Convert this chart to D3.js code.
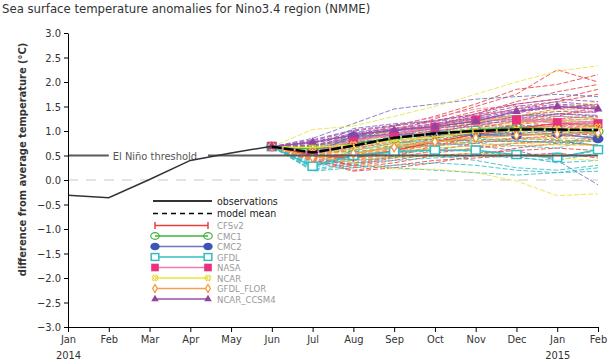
<!DOCTYPE html>
<meta charset="utf-8">
<script src="https://d3js.org/d3.v7.min.js"></script>
<style>
  body { margin: 0; background: #fff; }
  svg text { font-family: "DejaVu Sans Condensed", "DejaVu Sans", sans-serif; font-stretch: condensed; }
</style>
<body>
<div id="chart"></div>
<script>

// x axis labels, Jan 2014 .. Feb 2015
var monthLabels = ["Jan","Feb","Mar","Apr","May","Jun","Jul","Aug","Sep","Oct","Nov","Dec","Jan","Feb"];
var yearLabels  = ["2014","","","","","","","","","","","","2015",""];
var yTicks = [3.0, 2.5, 2.0, 1.5, 1.0, 0.5, 0.0, -0.5, -1.0, -1.5, -2.0, -2.5, -3.0];

// observed anomaly, Jan..Jun 2014
var obsValues = [-0.31, -0.36, 0.01, 0.40, 0.55, 0.69];
var threshold = 0.5;

// forecasts: Jun 2014 .. Feb 2015 (month index 5..13)
var forecastStart = 5;
var modelMeanValues = [0.68, 0.56, 0.70, 0.86, 0.95, 1.00, 1.03, 1.03, 1.02];

var modelNames = ["CFSv2", "CMC1", "CMC2", "GFDL", "NASA", "NCAR", "GFDL_FLOR", "NCAR_CCSM4"];

var cfsv2Mean = [0.68, 0.50, 0.45, 0.60, 0.78, 0.93, 1.06, 1.15, 1.15];
var cfsv2Members = [
  [0.68, 0.45, 0.30, 0.45, 0.60, 0.75, 0.85, 0.90, 0.95],
  [0.68, 0.40, 0.25, 0.35, 0.50, 0.55, 0.60, 0.65, 0.60],
  [0.68, 0.50, 0.45, 0.65, 0.85, 1.05, 1.20, 1.35, 1.40],
  [0.68, 0.55, 0.60, 0.85, 1.10, 1.35, 1.60, 1.80, 1.95],
  [0.68, 0.60, 0.75, 1.00, 1.25, 1.50, 1.75, 2.25, 2.00],
  [0.68, 0.42, 0.20, 0.30, 0.40, 0.45, 0.50, 0.55, 0.45],
  [0.68, 0.52, 0.50, 0.70, 0.95, 1.15, 1.30, 1.45, 1.55],
  [0.68, 0.48, 0.35, 0.50, 0.70, 0.90, 1.05, 1.10, 1.20],
  [0.68, 0.58, 0.80, 1.05, 1.20, 1.40, 1.55, 1.65, 1.85],
  [0.68, 0.45, 0.28, 0.40, 0.55, 0.65, 0.75, 0.80, 0.70],
  [0.68, 0.62, 0.90, 1.10, 1.30, 1.55, 1.85, 1.95, 2.15],
  [0.68, 0.47, 0.42, 0.60, 0.80, 0.98, 1.12, 1.25, 1.30],
  [0.68, 0.38, 0.18, 0.25, 0.35, 0.50, 0.65, 0.75, 0.85],
  [0.68, 0.50, 0.40, 0.55, 0.75, 0.95, 1.15, 1.30, 1.50],
  [0.68, 0.44, 0.32, 0.48, 0.68, 0.88, 1.00, 1.05, 1.10],
  [0.68, 0.56, 0.65, 0.90, 1.12, 1.30, 1.45, 1.60, 1.75]
];

var cmc1Mean = [0.68, 0.63, 0.74, 0.84, 0.95, 1.02, 1.07, 1.04, 0.99];
var cmc1Members = [
  [0.68, 0.62, 0.70, 0.80, 0.90, 0.95, 1.00, 1.00, 0.95],
  [0.68, 0.66, 0.80, 0.92, 1.05, 1.15, 1.20, 1.18, 1.10],
  [0.68, 0.58, 0.62, 0.70, 0.78, 0.82, 0.85, 0.82, 0.78],
  [0.68, 0.70, 0.88, 1.00, 1.12, 1.25, 1.32, 1.30, 1.25],
  [0.68, 0.60, 0.66, 0.75, 0.85, 0.92, 0.95, 0.90, 0.88],
  [0.68, 0.64, 0.75, 0.88, 0.98, 1.05, 1.08, 1.05, 1.00],
  [0.68, 0.68, 0.82, 0.95, 1.08, 1.18, 1.25, 1.22, 1.18],
  [0.68, 0.56, 0.58, 0.66, 0.72, 0.78, 0.80, 0.76, 0.72]
];

var cmc2Mean = [0.68, 0.55, 0.89, 0.92, 0.92, 0.92, 0.91, 0.95, 0.84];
var cmc2Members = [
  [0.68, 0.60, 0.90, 0.95, 0.95, 0.95, 0.92, 0.95, 0.85],
  [0.68, 0.55, 0.85, 0.88, 0.90, 0.92, 0.95, 1.00, 0.95],
  [0.68, 0.65, 1.05, 1.15, 1.20, 1.25, 1.30, 1.35, 1.30],
  [0.68, 0.50, 0.78, 0.80, 0.75, 0.70, 0.60, 0.40, -0.10],
  [0.68, 0.58, 0.95, 1.00, 1.00, 0.98, 0.95, 1.00, 0.90],
  [0.68, 0.85, 1.15, 1.45, 1.55, 1.65, 1.70, 1.75, 1.70],
  [0.68, 0.62, 0.98, 1.05, 1.08, 1.10, 1.10, 1.15, 1.10],
  [0.68, 0.52, 0.80, 0.82, 0.82, 0.80, 0.78, 0.80, 0.70]
];

var gfdlMean = [0.68, 0.28, 0.50, 0.58, 0.61, 0.61, 0.52, 0.46, 0.62];
var gfdlMembers = [
  [0.68, 0.25, 0.45, 0.55, 0.60, 0.60, 0.50, 0.45, 0.60],
  [0.68, 0.20, 0.30, 0.25, 0.20, 0.15, 0.10, 0.15, 0.18],
  [0.68, 0.35, 0.60, 0.75, 0.80, 0.85, 0.80, 0.75, 0.90],
  [0.68, 0.30, 0.40, 0.45, 0.50, 0.40, 0.25, 0.20, 0.30],
  [0.68, 0.28, 0.55, 0.65, 0.70, 0.75, 0.70, 0.65, 0.85],
  [0.68, 0.22, 0.35, 0.40, 0.45, 0.50, 0.45, 0.40, 0.55],
  [0.68, 0.32, 0.50, 0.60, 0.62, 0.58, 0.48, 0.35, 0.40],
  [0.68, 0.18, 0.25, 0.30, 0.35, 0.30, 0.20, 0.15, 0.25]
];

var nasaMean = [0.69, 0.55, 0.80, 0.94, 1.08, 1.22, 1.23, 1.17, 1.15];
var nasaMembers = [
  [0.69, 0.55, 0.80, 0.95, 1.10, 1.25, 1.25, 1.20, 1.15],
  [0.69, 0.50, 0.70, 0.85, 1.00, 1.15, 1.20, 1.10, 1.05],
  [0.69, 0.60, 0.90, 1.05, 1.20, 1.35, 1.40, 1.30, 1.28],
  [0.69, 0.52, 0.78, 0.92, 1.05, 1.15, 1.10, 1.08, 1.10],
  [0.69, 0.58, 0.85, 1.00, 1.15, 1.30, 1.30, 1.25, 1.22],
  [0.69, 0.48, 0.65, 0.78, 0.92, 1.05, 1.08, 1.02, 0.98],
  [0.69, 0.62, 0.95, 1.12, 1.28, 1.45, 1.52, 1.45, 1.40],
  [0.69, 0.54, 0.82, 0.98, 1.12, 1.25, 1.28, 1.22, 1.18]
];

var ncarMean = [0.68, 0.66, 0.72, 0.80, 0.88, 0.97, 1.02, 1.04, 1.08];
var ncarMembers = [
  [0.68, 1.03, 1.10, 1.30, 1.50, 1.75, 2.00, 2.22, 2.33],
  [0.68, 0.50, 0.35, 0.22, 0.22, 0.15, -0.02, -0.32, -0.28],
  [0.68, 0.60, 0.70, 0.85, 0.95, 1.05, 1.15, 1.20, 1.25],
  [0.68, 0.55, 0.55, 0.60, 0.65, 0.70, 0.75, 0.72, 0.70],
  [0.68, 0.65, 0.85, 1.00, 1.10, 1.20, 1.30, 1.40, 1.50],
  [0.68, 0.58, 0.62, 0.72, 0.80, 0.88, 0.95, 0.98, 1.00],
  [0.68, 0.62, 0.78, 0.92, 1.05, 1.18, 1.30, 1.45, 1.60],
  [0.68, 0.52, 0.45, 0.45, 0.50, 0.55, 0.50, 0.45, 0.40]
];

var floreMean = [0.68, 0.46, 0.54, 0.67, 0.78, 0.86, 0.91, 0.94, 0.96];
var floreMembers = [
  [0.68, 0.45, 0.55, 0.70, 0.80, 0.88, 0.92, 0.95, 0.95],
  [0.68, 0.40, 0.45, 0.55, 0.65, 0.70, 0.75, 0.78, 0.80],
  [0.68, 0.50, 0.65, 0.80, 0.92, 1.00, 1.05, 1.10, 1.12],
  [0.68, 0.48, 0.50, 0.60, 0.72, 0.80, 0.85, 0.88, 0.90],
  [0.68, 0.42, 0.40, 0.48, 0.58, 0.65, 0.70, 0.72, 0.72],
  [0.68, 0.52, 0.70, 0.88, 1.00, 1.10, 1.18, 1.22, 1.25],
  [0.68, 0.44, 0.52, 0.62, 0.70, 0.78, 0.82, 0.85, 0.85],
  [0.68, 0.50, 0.60, 0.75, 0.88, 0.98, 1.05, 1.10, 1.15]
];

var ccsm4Mean = [0.68, 0.77, 0.92, 1.02, 1.09, 1.20, 1.40, 1.50, 1.45];
var ccsm4Members = [
  [0.68, 0.78, 0.95, 1.05, 1.15, 1.28, 1.45, 1.55, 1.50],
  [0.68, 0.72, 0.85, 0.95, 1.05, 1.15, 1.30, 1.40, 1.38],
  [0.68, 0.80, 1.00, 1.10, 1.20, 1.35, 1.55, 1.65, 1.60],
  [0.68, 0.75, 0.90, 1.00, 1.08, 1.20, 1.38, 1.48, 1.45],
  [0.68, 0.82, 1.02, 1.12, 1.22, 1.32, 1.50, 1.60, 1.52],
  [0.68, 0.76, 0.92, 1.02, 1.12, 1.25, 1.42, 1.52, 1.48],
  [0.68, 0.70, 0.82, 0.92, 1.00, 1.10, 1.25, 1.35, 1.32]
];

// styles per model (line colour, marker colour, marker shape)
var lineColors   = ["#e8413c", "#3db33d", "#6f72c0", "#33bcc4", "#f07aae", "#ece23a", "#f5a050", "#9a50aa"];
var markerColors = ["#e8413c", "#3db33d", "#3b55b5", "#33bcc4", "#e8327f", "#e6d830", "#f5913a", "#8e44a0"];
var markerShapes = ["tick", "ring", "dot", "square", "fsquare", "cross", "diamond", "triangle"];

var models = [
  {mean: cfsv2Mean, members: cfsv2Members},
  {mean: cmc1Mean,  members: cmc1Members},
  {mean: cmc2Mean,  members: cmc2Members},
  {mean: gfdlMean,  members: gfdlMembers},
  {mean: nasaMean,  members: nasaMembers},
  {mean: ncarMean,  members: ncarMembers},
  {mean: floreMean, members: floreMembers},
  {mean: ccsm4Mean, members: ccsm4Members}
];

var width = 610, height = 364;
var margin = {top: 33, right: 12, bottom: 37, left: 68};

var svg = d3.select("#chart").append("svg")
  .attr("width", width)
  .attr("height", height);

var x = d3.scaleLinear().domain([0, monthLabels.length - 1]).range([margin.left, width - margin.right]);
var y = d3.scaleLinear().domain([-3, 3]).range([height - margin.bottom, margin.top]);

// title
svg.append("text")
  .attr("x", 2).attr("y", 13)
  .style("font-size", "13px").style("fill", "#333")
  .text("Sea surface temperature anomalies for Nino3.4 region (NMME)");

// zero line
svg.append("line")
  .attr("x1", x(0)).attr("x2", x(13))
  .attr("y1", y(0)).attr("y2", y(0))
  .attr("stroke", "#d2c8c8").attr("stroke-width", 1.2)
  .attr("stroke-dasharray", "10,8");

var line = d3.line()
  .x(function(d, i) { return x(forecastStart + i); })
  .y(function(d) { return y(d); });

// ensemble members (spaghetti)
models.forEach(function(m, k) {
  svg.append("g").selectAll("path")
    .data(m.members)
    .enter().append("path")
      .attr("d", line)
      .attr("fill", "none")
      .attr("stroke", lineColors[k])
      .attr("stroke-width", 1)
      .attr("stroke-opacity", 0.85)
      .attr("stroke-dasharray", "5,2");
});

function marker(g, shape, color, cx, cy, s) {
  s = s || 1;
  if (shape == "tick") {
    g.append("line").attr("x1", cx).attr("x2", cx).attr("y1", cy - 4 * s).attr("y2", cy + 4 * s)
      .attr("stroke", color).attr("stroke-width", 1.5);
  } else if (shape == "ring") {
    g.append("ellipse").attr("cx", cx).attr("cy", cy).attr("rx", 5 * s).attr("ry", 4 * s)
      .attr("fill", "none").attr("stroke", color).attr("stroke-width", 1.2);
  } else if (shape == "dot") {
    g.append("ellipse").attr("cx", cx).attr("cy", cy).attr("rx", 5.5 * s).attr("ry", 4.5 * s)
      .attr("fill", color);
  } else if (shape == "square") {
    g.append("rect").attr("x", cx - 4.5 * s).attr("y", cy - 4 * s).attr("width", 9 * s).attr("height", 8 * s)
      .attr("fill", "#fff").attr("stroke", color).attr("stroke-width", 1.5);
  } else if (shape == "fsquare") {
    g.append("rect").attr("x", cx - 4.5 * s).attr("y", cy - 4.5 * s).attr("width", 9 * s).attr("height", 9 * s)
      .attr("fill", color);
  } else if (shape == "cross") {
    g.append("path").attr("d", d3.symbol().type(d3.symbolCross).size(26 * s * s)())
      .attr("transform", "translate(" + cx + "," + cy + ") rotate(45)")
      .attr("fill", "none").attr("stroke", color).attr("stroke-width", 1);
  } else if (shape == "diamond") {
    g.append("path").attr("d", d3.symbol().type(d3.symbolDiamond).size(26 * s * s)())
      .attr("transform", "translate(" + cx + "," + cy + ")")
      .attr("fill", "#fff").attr("stroke", color).attr("stroke-width", 1.2);
  } else if (shape == "triangle") {
    g.append("path").attr("d", d3.symbol().type(d3.symbolTriangle).size(34 * s * s)())
      .attr("transform", "translate(" + cx + "," + cy + ")")
      .attr("fill", color);
  }
}

// model means with markers
models.forEach(function(m, k) {
  var g = svg.append("g");
  g.append("path")
    .attr("d", line(m.mean))
    .attr("fill", "none")
    .attr("stroke", lineColors[k])
    .attr("stroke-width", 1.3);
  m.mean.forEach(function(v, i) {
    marker(g, markerShapes[k], markerColors[k], x(forecastStart + i), y(v));
  });
});

// El Nino threshold, broken by its label
svg.append("line")
  .attr("x1", x(0)).attr("x2", x(1))
  .attr("y1", y(threshold)).attr("y2", y(threshold))
  .attr("stroke", "#5a5a5a").attr("stroke-width", 2);
svg.append("line")
  .attr("x1", 208).attr("x2", x(13))
  .attr("y1", y(threshold)).attr("y2", y(threshold))
  .attr("stroke", "#5a5a5a").attr("stroke-width", 2);
svg.append("text")
  .attr("x", x(1) + 4).attr("y", y(threshold) + 4)
  .style("font-size", "11px").style("fill", "#555")
  .text("El Niño threshold");

// observations
svg.append("path")
  .attr("d", d3.line().x(function(d, i) { return x(i); }).y(function(d) { return y(d); })(obsValues))
  .attr("fill", "none")
  .attr("stroke", "#333")
  .attr("stroke-width", 1.5);

// model mean
svg.append("path")
  .attr("d", line(modelMeanValues))
  .attr("fill", "none")
  .attr("stroke", "#000")
  .attr("stroke-width", 2.5)
  .attr("stroke-dasharray", "10,2");

// axes
var yAxis = svg.append("g")
  .attr("transform", "translate(" + margin.left + ",0)")
  .call(d3.axisLeft(y).tickValues(yTicks).tickFormat(d3.format(".1f")).tickSize(4).tickSizeOuter(0));
yAxis.selectAll("text").style("font-size", "11px").style("fill", "#333");

var xAxis = svg.append("g")
  .attr("transform", "translate(0," + (height - margin.bottom) + ")")
  .call(d3.axisBottom(x).tickValues(d3.range(monthLabels.length))
    .tickFormat(function(i) { return monthLabels[i]; }).tickSize(5).tickSizeOuter(0));
xAxis.selectAll("text").style("font-size", "11px").style("fill", "#333");
xAxis.selectAll(".tick").append("text")
  .attr("y", 24).attr("dy", "0.71em")
  .attr("fill", "#333").style("font-size", "11px")
  .text(function(i) { return yearLabels[i]; });
svg.selectAll(".domain").attr("stroke", "#000");

// y axis title
svg.append("text")
  .attr("transform", "translate(26," + y(0.42) + ") rotate(-90)")
  .attr("text-anchor", "middle")
  .style("font-size", "11px").style("font-weight", "bold").style("fill", "#333")
  .text("difference from average temperature (\u00B0C)");

// legend
var lx1 = 155, lx2 = 208, ltx = 217;
var leg = svg.append("g");
leg.append("line").attr("x1", lx1 - 2).attr("x2", lx2 + 4).attr("y1", 201).attr("y2", 201)
  .attr("stroke", "#333").attr("stroke-width", 2);
leg.append("text").attr("x", ltx).attr("y", 204.5).style("font-size", "10.5px").style("fill", "#222").text("observations");
leg.append("line").attr("x1", lx1 - 2).attr("x2", lx2 + 4).attr("y1", 213.5).attr("y2", 213.5)
  .attr("stroke", "#000").attr("stroke-width", 1.3).attr("stroke-dasharray", "5,4");
leg.append("text").attr("x", ltx).attr("y", 217).style("font-size", "10.5px").style("fill", "#222").text("model mean");

modelNames.forEach(function(name, k) {
  var ly = 225.5 + k * 10.5;
  leg.append("line").attr("x1", lx1).attr("x2", lx2).attr("y1", ly).attr("y2", ly)
    .attr("stroke", lineColors[k]).attr("stroke-width", 1.5);
  marker(leg, markerShapes[k], markerColors[k], lx1, ly, 0.85);
  marker(leg, markerShapes[k], markerColors[k], lx2, ly, 0.85);
  leg.append("text").attr("x", ltx).attr("y", ly + 3.5)
    .style("font-size", "9.5px").style("fill", "#9a9a9a").text(name);
});

</script>
</body>
